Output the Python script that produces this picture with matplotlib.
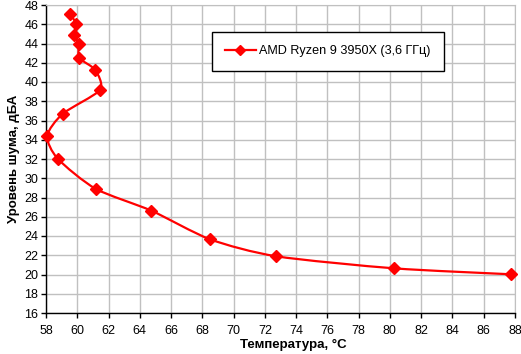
import matplotlib.pyplot as plt
import numpy as np
from matplotlib.path import Path
from matplotlib.patches import PathPatch
from matplotlib.lines import Line2D

plt.rcParams["font.family"] = ["Liberation Sans", "DejaVu Sans"]
plt.rcParams["font.size"] = 9

SERIES_NAME = "AMD Ryzen 9 3950X (3,6 ГГц)"
temperature = [59.55, 59.92, 59.81, 60.09, 60.13, 61.15, 61.45, 59.07, 58.08,
               58.75, 61.18, 64.74, 68.49, 72.74, 80.28, 87.77]
noise = [47.06, 46.03, 44.9, 43.95, 42.5, 41.25, 39.17, 36.7, 34.4,
         32.03, 28.9, 26.63, 23.66, 21.89, 20.64, 20.02]
x_ticks = list(range(58, 89, 2))
y_ticks = list(range(16, 49, 2))
RED = "#ff0000"


def smooth_path(xs, ys, k=8.0):
    # Catmull-Rom style bezier, like the smoothed lines in spreadsheet charts
    pts = np.column_stack([xs, ys])
    n = len(pts)
    verts = [pts[0]]
    codes = [Path.MOVETO]
    for i in range(n - 1):
        p0 = pts[i - 1] if i > 0 else pts[i]
        p1 = pts[i]
        p2 = pts[i + 1]
        p3 = pts[i + 2] if i + 2 < n else pts[i + 1]
        c1 = p1 + (p2 - p0) / k
        c2 = p2 - (p3 - p1) / k
        verts += [c1, c2, p2]
        codes += [Path.CURVE4] * 3
    return Path(verts, codes)


fig = plt.figure(figsize=(5.21, 3.54), dpi=100)
ax = fig.add_axes([46 / 521, 1 - 313 / 354, 469 / 521, 308 / 354])

ax.set_xlim(58, 88)
ax.set_ylim(16, 48)
ax.set_xticks(x_ticks)
ax.set_yticks(y_ticks)
ax.grid(True, color="#c0c0c0", linewidth=1)
ax.set_axisbelow(True)

for side in ("top", "right"):
    ax.spines[side].set_color("#c0c0c0")
for side in ("left", "bottom"):
    ax.spines[side].set_color("black")
    ax.spines[side].set_linewidth(1)
ax.tick_params(direction="out", length=3.5, width=1, colors="black", labelsize=9, pad=2)
ax.tick_params(axis="x", pad=5)

patch = PathPatch(smooth_path(temperature, noise), facecolor="none", edgecolor=RED,
                  linewidth=1.6, zorder=3, clip_on=False)
ax.add_patch(patch)
ax.plot(temperature, noise, linestyle="none", marker="D", markersize=6.3,
        color=RED, zorder=4, clip_on=False)

ax.set_xlabel("Температура, °С", fontweight="bold", fontsize=9.5)
ax.xaxis.set_label_coords(0.527, -0.085, transform=ax.transAxes)
ax.xaxis.label.set_va("top")
ax.set_ylabel("Уровень шума, дБА", fontweight="bold", fontsize=9.5, labelpad=3)

handle = Line2D([], [], color=RED, linewidth=1.6, marker="D", markersize=5)
leg = ax.legend([handle], [SERIES_NAME], loc="upper left",
                bbox_to_anchor=(0.354, 0.912), fancybox=False, framealpha=1,
                edgecolor="black", fontsize=9.1, handlelength=2.4, handletextpad=0.3,
                borderpad=1.05, borderaxespad=0)
leg.get_frame().set_linewidth(1)

fig.savefig("out.png", dpi=100)
